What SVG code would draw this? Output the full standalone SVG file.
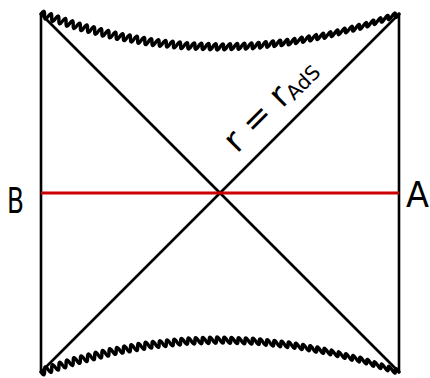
<svg xmlns="http://www.w3.org/2000/svg" width="430" height="378" viewBox="0 0 430 378">
<style>
.edge{stroke:#000;stroke-width:2.6;fill:none;stroke-linecap:round}
.wave{stroke:#000;stroke-width:3.4;fill:none;stroke-linejoin:round;stroke-linecap:round}
.red{stroke:#cc0000;stroke-width:3;fill:none}
.lbl{font-family:"DejaVu Sans","Liberation Sans",sans-serif;fill:#000}
</style>
<rect width="430" height="378" fill="#fff"/>
<g id="connectors">
<line class="edge" x1="41" y1="14" x2="41" y2="372"/>
<line class="edge" x1="399" y1="14" x2="399" y2="372"/>
<line class="edge" x1="41" y1="14" x2="399" y2="372"/>
<line class="edge" x1="41" y1="372" x2="399" y2="14"/>
<path id="singularity-top" class="wave" d="M41,14 q3.99,-6.05 3.58,1.188 t3.58,1.188 3.58,1.188 3.58,1.188 3.58,1.188 3.58,1.188 3.58,1.188 3.58,1.188 3.58,1.188 3.58,1.188 3.58,0.924 3.58,0.924 3.58,0.924 3.58,0.924 3.58,0.924 3.58,0.924 3.58,0.924 3.58,0.924 3.58,0.924 3.58,0.924 3.58,0.66 3.58,0.66 3.58,0.66 3.58,0.66 3.58,0.66 3.58,0.66 3.58,0.66 3.58,0.66 3.58,0.66 3.58,0.66 3.58,0.396 3.58,0.396 3.58,0.396 3.58,0.396 3.58,0.396 3.58,0.396 3.58,0.396 3.58,0.396 3.58,0.396 3.58,0.396 3.58,0.132 3.58,0.132 3.58,0.132 3.58,0.132 3.58,0.132 3.58,0.132 3.58,0.132 3.58,0.132 3.58,0.132 3.58,0.132 3.58,-0.132 3.58,-0.132 3.58,-0.132 3.58,-0.132 3.58,-0.132 3.58,-0.132 3.58,-0.132 3.58,-0.132 3.58,-0.132 3.58,-0.132 3.58,-0.396 3.58,-0.396 3.58,-0.396 3.58,-0.396 3.58,-0.396 3.58,-0.396 3.58,-0.396 3.58,-0.396 3.58,-0.396 3.58,-0.396 3.58,-0.66 3.58,-0.66 3.58,-0.66 3.58,-0.66 3.58,-0.66 3.58,-0.66 3.58,-0.66 3.58,-0.66 3.58,-0.66 3.58,-0.66 3.58,-0.924 3.58,-0.924 3.58,-0.924 3.58,-0.924 3.58,-0.924 3.58,-0.924 3.58,-0.924 3.58,-0.924 3.58,-0.924 3.58,-0.924 3.58,-1.188 3.58,-1.188 3.58,-1.188 3.58,-1.188 3.58,-1.188 3.58,-1.188 3.58,-1.188 3.58,-1.188 3.58,-1.188 3.58,-1.188"/>
<path id="singularity-bottom" class="wave" d="M41,372 q3.93,6.09 3.58,-1.152 t3.58,-1.152 3.58,-1.152 3.58,-1.152 3.58,-1.152 3.58,-1.152 3.58,-1.152 3.58,-1.152 3.58,-1.152 3.58,-1.152 3.58,-0.896 3.58,-0.896 3.58,-0.896 3.58,-0.896 3.58,-0.896 3.58,-0.896 3.58,-0.896 3.58,-0.896 3.58,-0.896 3.58,-0.896 3.58,-0.64 3.58,-0.64 3.58,-0.64 3.58,-0.64 3.58,-0.64 3.58,-0.64 3.58,-0.64 3.58,-0.64 3.58,-0.64 3.58,-0.64 3.58,-0.384 3.58,-0.384 3.58,-0.384 3.58,-0.384 3.58,-0.384 3.58,-0.384 3.58,-0.384 3.58,-0.384 3.58,-0.384 3.58,-0.384 3.58,-0.128 3.58,-0.128 3.58,-0.128 3.58,-0.128 3.58,-0.128 3.58,-0.128 3.58,-0.128 3.58,-0.128 3.58,-0.128 3.58,-0.128 3.58,0.128 3.58,0.128 3.58,0.128 3.58,0.128 3.58,0.128 3.58,0.128 3.58,0.128 3.58,0.128 3.58,0.128 3.58,0.128 3.58,0.384 3.58,0.384 3.58,0.384 3.58,0.384 3.58,0.384 3.58,0.384 3.58,0.384 3.58,0.384 3.58,0.384 3.58,0.384 3.58,0.64 3.58,0.64 3.58,0.64 3.58,0.64 3.58,0.64 3.58,0.64 3.58,0.64 3.58,0.64 3.58,0.64 3.58,0.64 3.58,0.896 3.58,0.896 3.58,0.896 3.58,0.896 3.58,0.896 3.58,0.896 3.58,0.896 3.58,0.896 3.58,0.896 3.58,0.896 3.58,1.152 3.58,1.152 3.58,1.152 3.58,1.152 3.58,1.152 3.58,1.152 3.58,1.152 3.58,1.152 3.58,1.152 3.58,1.152"/>
<line id="slice" class="red" x1="41" y1="193" x2="399" y2="193"/>
</g>
<g id="label-B"><text class="lbl" x="7" y="213" font-size="36" textLength="17" lengthAdjust="spacingAndGlyphs">B</text></g>
<g id="label-A"><text class="lbl" x="406" y="207" font-size="36" textLength="23" lengthAdjust="spacingAndGlyphs">A</text></g>
<g id="label-horizon"><text class="lbl" transform="translate(237,154) rotate(-45)" font-size="34">r = r<tspan font-size="20" dy="3">AdS</tspan></text></g>
</svg>
